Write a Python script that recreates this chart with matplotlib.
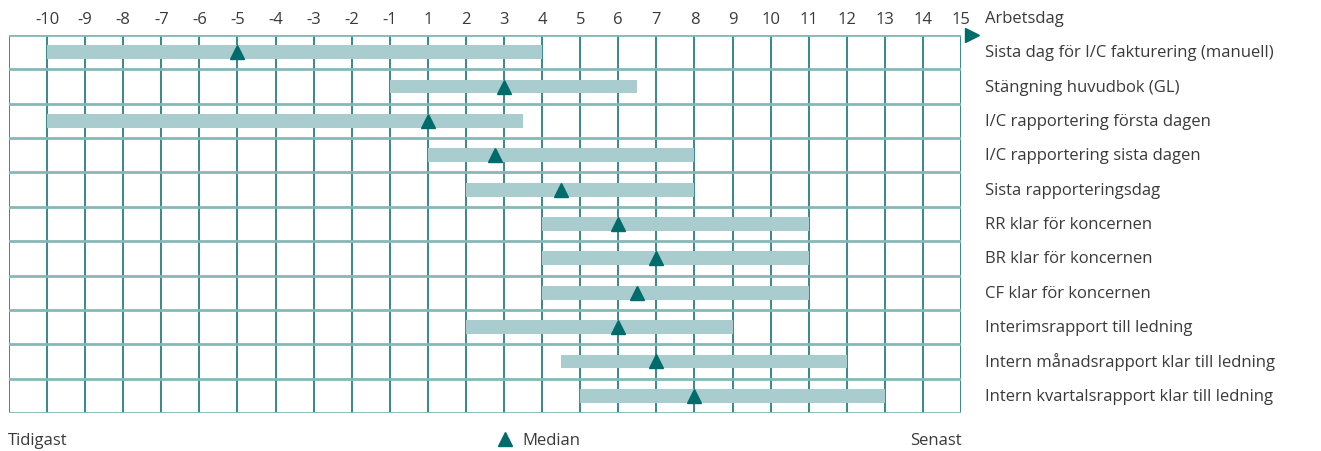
import matplotlib.pyplot as plt
from matplotlib.lines import Line2D

plt.rcParams['font.family'] = ['Open Sans', 'DejaVu Sans']

# Arbetsdag-intervall per aktivitet: tidigast, senast och median
aktiviteter = [
    "Sista dag för I/C fakturering (manuell)",
    "Stängning huvudbok (GL)",
    "I/C rapportering första dagen",
    "I/C rapportering sista dagen",
    "Sista rapporteringsdag",
    "RR klar för koncernen",
    "BR klar för koncernen",
    "CF klar för koncernen",
    "Interimsrapport till ledning",
    "Intern månadsrapport klar till ledning",
    "Intern kvartalsrapport klar till ledning",
]
tidigast = [-10, -1, -10, 1, 2, 4, 4, 4, 2, 4.5, 5]
senast = [4, 6.5, 3.5, 8, 8, 11, 11, 11, 9, 12, 13]
median = [-5, 3, 1, 2.75, 4.5, 6, 7, 6.5, 6, 7, 8]
# det finns ingen dag 0: -1 följs direkt av 1
dagar = list(range(-10, 0)) + list(range(1, 16))

mork = "#006b6b"
ljus = "#a9cdce"
linje = "#86b8b8"
text_farg = "#3a3a3a"
fs = 12


def pos(dag):
    # kolumnposition för en arbetsdag (hoppar över 0)
    return dag + 11 if dag < 0 else dag + 10


fig = plt.figure(figsize=(13.21, 4.52), dpi=100)
ax = fig.add_axes([9 / 1321, 1 - 414 / 452, 952 / 1321, 378 / 452])

n = len(aktiviteter)
ax.set_xlim(0, len(dagar))
ax.set_ylim(n, 0)

# rutnät
for x in range(0, len(dagar) + 1):
    ax.axvline(x, color=mork, lw=1.1, zorder=1)
for y in range(n + 1):
    ax.axhline(y, color=linje, lw=2.0, zorder=1)

for i in range(n):
    yc = i + 0.5
    ax.barh(yc, pos(senast[i]) - pos(tidigast[i]), left=pos(tidigast[i]),
            height=0.4, color=ljus, zorder=2)
    ax.plot(pos(median[i]), yc, marker="^", ms=10, color=mork, ls="none",
            zorder=3)
    ax.text(1.025, 1 - (yc / n), aktiviteter[i], transform=ax.transAxes,
            ha="left", va="center", fontsize=fs, color=text_farg)

ax.set_xticks([pos(d) for d in dagar])
ax.set_xticklabels([str(d) for d in dagar], fontsize=fs, color=text_farg)
ax.xaxis.tick_top()
ax.tick_params(axis="x", length=0, pad=6)
ax.set_yticks([])
for s in ax.spines.values():
    s.set_visible(False)

# pil vid axelns slut
ax.plot(len(dagar) + 0.3, 0, marker=">", ms=10, color=mork, clip_on=False,
        zorder=4)
fig.text(985 / 1321, 1 - 19 / 452, "Arbetsdag", ha="left", va="center",
         fontsize=fs, color=text_farg)

# förklaring under diagrammet
fig.text(8 / 1321, 1 - 441 / 452, "Tidigast", ha="left", va="center",
         fontsize=fs, color=text_farg)
fig.text(962 / 1321, 1 - 441 / 452, "Senast", ha="right", va="center",
         fontsize=fs, color=text_farg)
fig.add_artist(Line2D([505 / 1321], [1 - 440 / 452], marker="^", ms=10,
                      color=mork, ls="none", transform=fig.transFigure))
fig.text(522 / 1321, 1 - 441 / 452, "Median", ha="left", va="center",
         fontsize=fs, color=text_farg)

fig.savefig("out.png", dpi=100)
